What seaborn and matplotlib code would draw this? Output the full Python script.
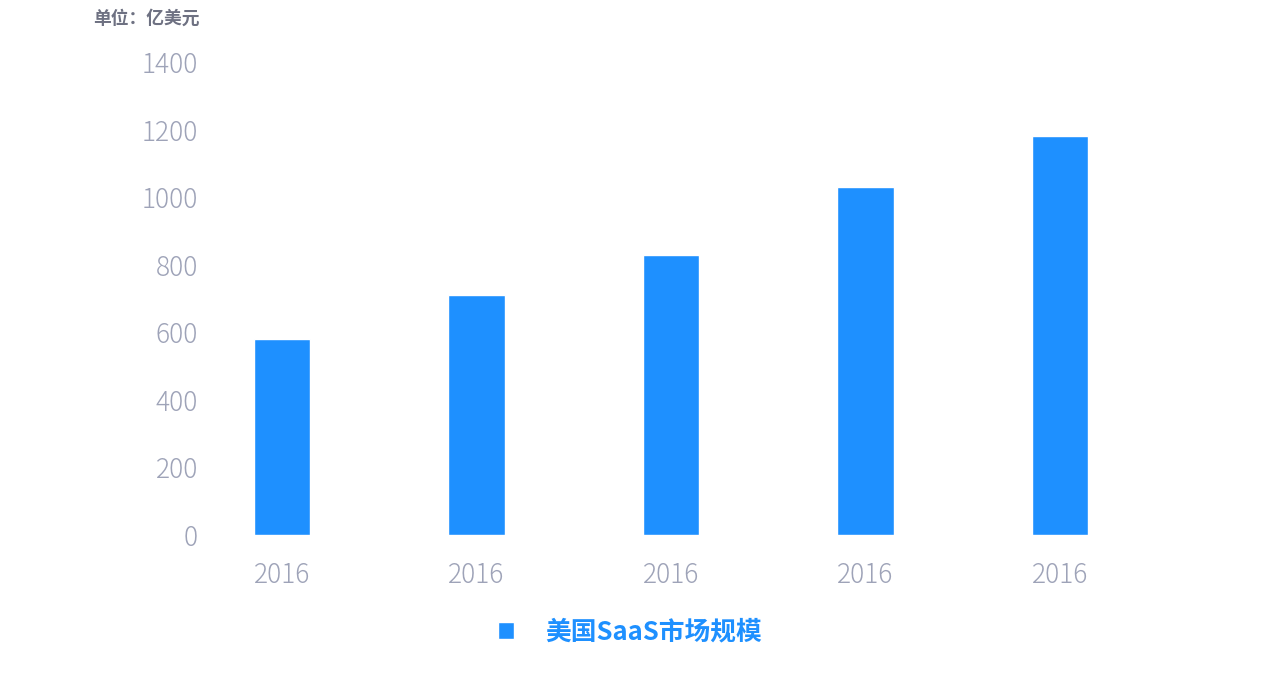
import matplotlib
matplotlib.use('Agg')
import matplotlib.pyplot as plt
import seaborn as sns
import pandas as pd

# ── Data ─────────────────────────────────────────────────────────────────────
years = ['2016', '2016', '2016', '2016', '2016']
market_size = [580, 710, 830, 1030, 1180]
series_name = '美国SaaS市场规模'
unit_label = '单位：亿美元'
y_ticks = [0, 200, 400, 600, 800, 1000, 1200, 1400]

bar_color = '#1E90FF'
tick_color = '#9EA3B8'

df = pd.DataFrame({'slot': range(len(years)), 'value': market_size})

sns.set_theme(style='white')
plt.rcParams['font.family'] = ['Noto Sans CJK SC', 'Noto Sans CJK JP', 'DejaVu Sans']

W, H = 1265, 689
fig = plt.figure(figsize=(W / 100, H / 100), dpi=100)

# axes placement in pixels: category 0 centred at x=282, step ~194.5px
step = 194.5
left_px, right_px = 205, 282 + 4.5 * step
bottom_px, top_px = 535, 62
ax = fig.add_axes([left_px / W, 1 - bottom_px / H,
                   (right_px - left_px) / W, (bottom_px - top_px) / H])

sns.barplot(data=df, x='slot', y='value', color=bar_color, width=0.288,
            saturation=1, label=series_name, ax=ax, native_scale=True)

ax.set_xlim(-(282 - left_px) / step, 4.5)
ax.set_ylim(0, 1400)
ax.set_xticks(range(len(years)))
ax.set_xticklabels(years)
ax.set_yticks(y_ticks)
ax.set_xlabel('')
ax.set_ylabel('')
for s in ax.spines.values():
    s.set_visible(False)
ax.tick_params(axis='both', length=0, colors=tick_color, labelsize=19)
ax.tick_params(axis='x', pad=19)
ax.tick_params(axis='y', pad=5)
for lab in ax.get_xticklabels() + ax.get_yticklabels():
    lab.set_family(['Noto Sans CJK JP', 'DejaVu Sans'])
    lab.set_fontweight(300)

fig.text(93 / W, 1 - 19 / H, unit_label, fontsize=12.8, fontweight='bold',
         color='#6E7182', ha='left', va='center')

leg = ax.legend(loc='center', bbox_to_anchor=(630 / W, 1 - 632 / H),
                bbox_transform=fig.transFigure, frameon=False,
                handlelength=0.62, handleheight=0.62, handletextpad=1.2,
                prop={'size': 18.5, 'weight': 'bold'})
for t in leg.get_texts():
    t.set_color(bar_color)

plt.savefig('out.png', dpi=100)
plt.close()
